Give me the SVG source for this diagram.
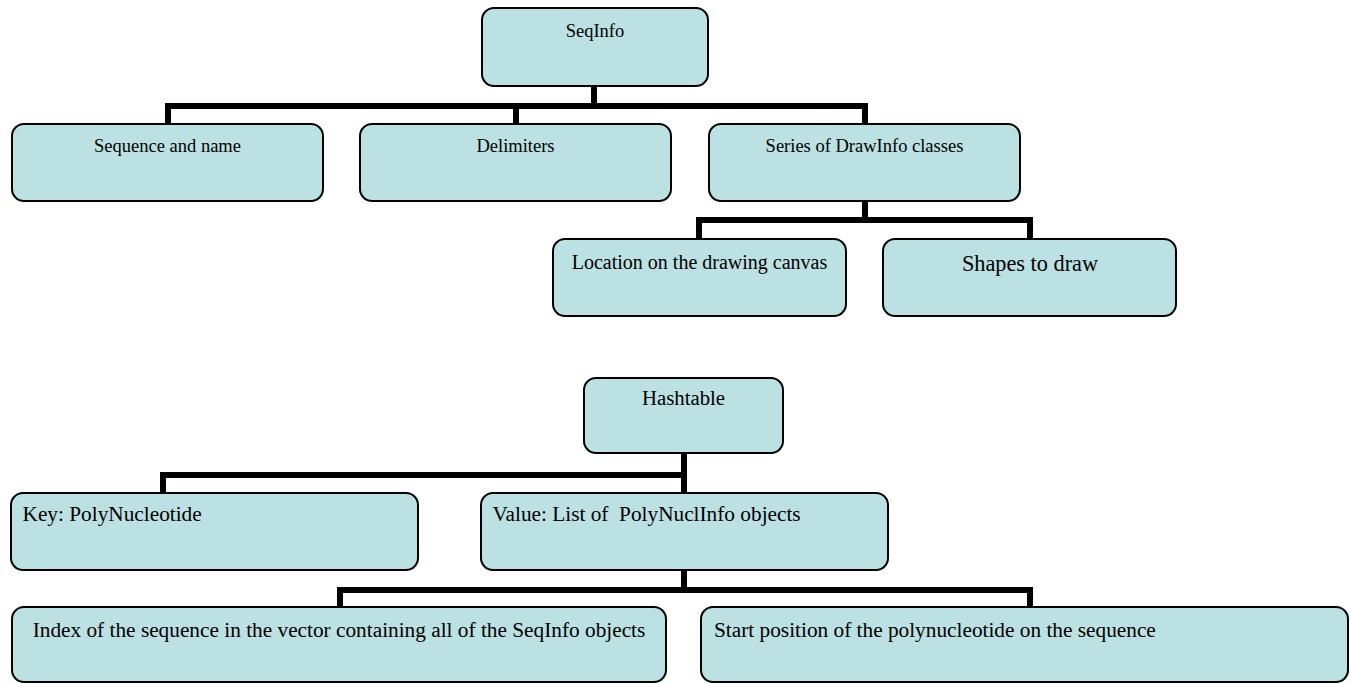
<svg xmlns="http://www.w3.org/2000/svg" width="1351" height="683" viewBox="0 0 1351 683">
  <style>
    .box { fill: #bce1e3; stroke: #000; stroke-width: 2; }
    .wire { fill: none; stroke: #000; stroke-width: 6; stroke-linejoin: miter; stroke-linecap: square; }
    text { font-family: "Liberation Serif", "Times New Roman", serif; fill: #000; }
    .c { text-anchor: middle; }
    .s { font-size: 18.5px; }
    .m { font-size: 20px; }
    .l { font-size: 21.3px; white-space: pre; }
    .xl { font-size: 22.3px; }
  </style>
  <rect width="1351" height="683" fill="#fff"/>

  <!-- connectors -->
  <g id="connectors">
    <!-- SeqInfo tree -->
    <path class="wire" d="M594 87 V106"/>
    <path class="wire" d="M168 124 V106 H865 V124"/>
    <path class="wire" d="M516 106 V124"/>
    <!-- DrawInfo tree -->
    <path class="wire" d="M865 202 V220"/>
    <path class="wire" d="M699 239 V220 H1030 V239"/>
    <!-- Hashtable tree -->
    <path class="wire" d="M684 454 V493"/>
    <path class="wire" d="M163 493 V475 H684"/>
    <!-- PolyNuclInfo tree -->
    <path class="wire" d="M684 571 V590"/>
    <path class="wire" d="M340 607 V590 H1030 V607"/>
  </g>

  <g id="seqinfo">
    <rect class="box" x="482" y="8" width="226" height="78" rx="12"/>
    <text class="s c" x="595" y="37">SeqInfo</text>
  </g>
  <g id="sequence-name">
    <rect class="box" x="12" y="124" width="311" height="77" rx="12"/>
    <text class="s c" x="167.5" y="151.5">Sequence and name</text>
  </g>
  <g id="delimiters">
    <rect class="box" x="360" y="124" width="311" height="77" rx="12"/>
    <text class="s c" x="515.5" y="151.5">Delimiters</text>
  </g>
  <g id="drawinfo">
    <rect class="box" x="709" y="124" width="311" height="77" rx="12"/>
    <text class="s c" x="864.5" y="151.5">Series of DrawInfo classes</text>
  </g>
  <g id="location">
    <rect class="box" x="553" y="239" width="293" height="77" rx="12"/>
    <text class="m c" x="699.5" y="269">Location on the drawing canvas</text>
  </g>
  <g id="shapes">
    <rect class="box" x="883" y="239" width="293" height="77" rx="12"/>
    <text class="xl c" x="1030" y="271">Shapes to draw</text>
  </g>

  <g id="hashtable">
    <rect class="box" x="584" y="378" width="199" height="75" rx="12"/>
    <text class="c" style="font-size:20.8px" x="683.5" y="405">Hashtable</text>
  </g>
  <g id="key">
    <rect class="box" x="11" y="493" width="407" height="77" rx="12"/>
    <text class="l" x="22.5" y="521">Key: PolyNucleotide</text>
  </g>
  <g id="value">
    <rect class="box" x="481" y="493" width="407" height="77" rx="12"/>
    <text class="l" x="492.5" y="521">Value: List of  PolyNuclInfo objects</text>
  </g>
  <g id="index">
    <rect class="box" x="12" y="607" width="654" height="75" rx="12"/>
    <text class="l c" x="339" y="637">Index of the sequence in the vector containing all of the SeqInfo objects</text>
  </g>
  <g id="start-position">
    <rect class="box" x="701" y="607" width="647" height="75" rx="12"/>
    <text class="l" x="714" y="637">Start position of the polynucleotide on the sequence</text>
  </g>
</svg>
